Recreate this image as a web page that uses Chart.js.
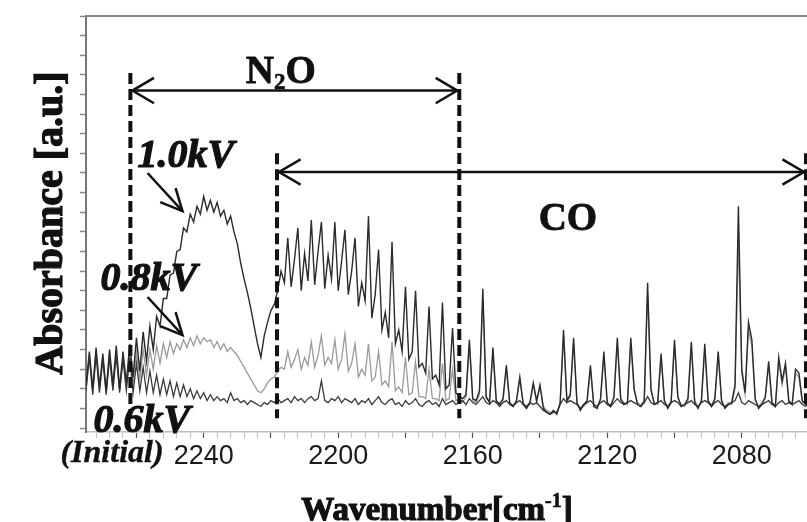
<!DOCTYPE html>
<html lang="en">
  <head>
    <meta charset="UTF-8" />
    <title>N2O / CO absorbance spectra</title>
    <script src="https://cdn.jsdelivr.net/npm/chart.js"></script>
    <style>
      html,
      body {
        margin: 0;
        padding: 0;
        background: #fff;
      }
      canvas {
        display: block;
      }
    </style>
  </head>
  <body>
    <canvas id="spectrumChart" width="807" height="522"></canvas>

    <script>
      // wavenumber grid [cm-1], left to right
      const wavenumbers = [
        2275, 2274, 2273, 2272, 2271, 2270, 2269, 2268, 2267, 2266,
        2265, 2264, 2263, 2262, 2261, 2260, 2259, 2258, 2257, 2256,
        2255, 2254, 2253, 2252, 2251, 2250, 2249, 2248, 2247, 2246,
        2245, 2244, 2243, 2242, 2241, 2240, 2239, 2238, 2237, 2236,
        2235, 2234, 2233, 2232, 2231, 2230, 2229, 2228, 2227, 2226,
        2225, 2224, 2223, 2222, 2221, 2220, 2219, 2218, 2217, 2216,
        2215, 2214, 2213, 2212, 2211, 2210, 2209, 2208, 2207, 2206,
        2205, 2204, 2203, 2202, 2201, 2200, 2199, 2198, 2197, 2196,
        2195, 2194, 2193, 2192, 2191, 2190, 2189, 2188, 2187, 2186,
        2185, 2184, 2183, 2182, 2181, 2180, 2179, 2178, 2177, 2176,
        2175, 2174, 2173, 2172, 2171, 2170, 2169, 2168, 2167, 2166,
        2165, 2164, 2163, 2162, 2161, 2160, 2159, 2158, 2157, 2156,
        2155, 2154, 2153, 2152, 2151, 2150, 2149, 2148, 2147, 2146,
        2145, 2144, 2143, 2142, 2141, 2140, 2139, 2138, 2137, 2136,
        2135, 2134, 2133, 2132, 2131, 2130, 2129, 2128, 2127, 2126,
        2125, 2124, 2123, 2122, 2121, 2120, 2119, 2118, 2117, 2116,
        2115, 2114, 2113, 2112, 2111, 2110, 2109, 2108, 2107, 2106,
        2105, 2104, 2103, 2102, 2101, 2100, 2099, 2098, 2097, 2096,
        2095, 2094, 2093, 2092, 2091, 2090, 2089, 2088, 2087, 2086,
        2085, 2084, 2083, 2082, 2081, 2080, 2079, 2078, 2077, 2076,
        2075, 2074, 2073, 2072, 2071, 2070, 2069, 2068, 2067, 2066,
        2065, 2064, 2063, 2062, 2061, 2060,
      ];

      // absorbance [a.u.], one value per wavenumber above
      const abs10kV = [
        2.2, 3.9, 2.0, 4.1, 2.1, 3.8, 1.9, 4.0, 2.2, 4.2,
        2.0, 3.9, 2.3, 4.3, 2.6, 4.6, 2.9, 4.9, 3.4, 5.2,
        4.0, 5.7, 5.2, 6.6, 6.6, 7.8, 7.9, 9.0, 9.1, 10.2,
        10.0, 10.9, 10.5, 11.3, 10.9, 11.8, 11.1, 11.6, 11.0, 11.5,
        10.8, 11.1, 10.4, 10.8, 10.0, 9.4, 8.4, 7.6, 6.9, 6.1,
        5.2, 4.3, 3.6, 4.7, 5.4, 6.0, 6.3, 7.0, 8.0, 7.4,
        9.7, 7.2, 8.6, 10.2, 7.0, 8.9, 7.5, 10.6, 7.3, 9.0,
        10.5, 7.1, 8.8, 7.6, 10.5, 7.0, 8.5, 10.1, 6.8, 8.0,
        9.7, 6.2, 7.4, 6.5, 10.8, 5.6, 6.8, 9.1, 5.0, 5.9,
        4.6, 9.5, 4.3, 5.0, 3.9, 7.2, 3.5, 3.9, 7.0, 3.1,
        3.3, 2.8, 6.2, 2.5, 2.7, 2.2, 6.4, 2.0, 2.2, 5.1,
        1.8, 1.6, 1.5, 1.7, 4.5, 1.5, 1.4, 1.9, 7.1, 1.6,
        1.3, 4.1, 1.4, 1.2, 1.5, 3.2, 1.3, 1.1, 1.4, 2.6,
        1.2, 1.0, 1.3, 2.3, 1.4, 2.2, 1.0, 0.8, 0.7, 0.9,
        0.7, 1.3, 5.0, 1.4, 1.7, 4.6, 1.3, 0.9, 1.2, 1.4,
        3.2, 1.1, 1.0, 1.5, 3.9, 1.3, 1.1, 1.6, 4.6, 1.5,
        1.2, 1.3, 4.6, 2.0, 1.2, 1.1, 1.4, 7.4, 2.0, 1.2,
        1.3, 3.8, 1.4, 1.0, 1.3, 4.5, 1.6, 1.1, 1.2, 1.5,
        4.4, 1.3, 1.0, 1.4, 4.3, 1.4, 1.1, 1.5, 3.9, 1.4,
        1.0, 1.2, 1.3, 2.2, 11.3, 3.0, 1.8, 5.4, 4.5, 1.5,
        1.0, 1.2, 1.6, 3.4, 1.3, 1.1, 3.6, 2.4, 3.3, 1.4,
        1.2, 3.0, 2.8, 1.4, 1.2, 1.3,
      ];

      const abs08kV = [
        2.0, 3.7, 1.8, 3.9, 1.9, 3.6, 1.8, 3.8, 2.0, 3.9,
        1.9, 3.6, 2.1, 3.9, 2.3, 3.9, 2.5, 4.0, 2.7, 4.0,
        3.0, 4.2, 3.3, 4.3, 3.6, 4.4, 3.8, 4.3, 4.0, 4.5,
        4.1, 4.6, 4.2, 4.7, 4.3, 4.6, 4.4, 4.5, 4.1, 4.4,
        4.0, 4.3, 3.9, 4.1, 3.9, 3.7, 3.4, 3.1, 2.8, 2.5,
        2.2, 1.9, 1.8, 2.0, 2.3, 2.5, 2.6, 2.9, 3.1, 3.0,
        3.9, 3.1, 3.5, 4.0, 3.0, 3.6, 3.2, 4.4, 3.1, 3.7,
        4.7, 3.2, 3.6, 3.3, 4.5, 3.0, 3.5, 4.8, 2.9, 3.3,
        4.3, 2.6, 3.0, 2.7, 4.3, 2.4, 2.6, 3.9, 2.2, 2.4,
        2.1, 4.4, 1.9, 2.1, 1.8, 3.6, 1.7, 1.8, 3.4, 1.6,
        1.6, 1.5, 3.0, 1.5, 1.5, 1.4, 3.3, 1.4, 1.5, 3.0,
        1.4, 1.5, 1.3, 1.6, 4.2, 1.4, 1.3, 1.7, 6.6, 1.5,
        1.4, 3.8, 1.3, 1.3, 1.4, 3.0, 1.2, 1.2, 1.3, 2.5,
        1.3, 1.1, 1.2, 2.2, 1.3, 2.1, 1.1, 0.9, 0.8, 0.8,
        0.8, 1.2, 4.7, 1.3, 1.6, 4.3, 1.2, 1.0, 1.1, 1.3,
        3.0, 1.2, 1.1, 1.4, 3.7, 1.2, 1.2, 1.5, 4.3, 1.4,
        1.3, 1.2, 4.3, 1.9, 1.3, 1.2, 1.3, 6.8, 1.9, 1.3,
        1.2, 3.6, 1.3, 1.1, 1.4, 4.2, 1.5, 1.2, 1.1, 1.4,
        4.1, 1.4, 1.1, 1.3, 4.0, 1.3, 1.2, 1.4, 3.7, 1.3,
        1.1, 1.3, 1.2, 2.0, 9.6, 2.8, 1.7, 5.0, 4.2, 1.4,
        1.1, 1.3, 1.5, 3.2, 1.2, 1.2, 3.4, 2.2, 3.1, 1.3,
        1.3, 2.8, 2.6, 1.3, 1.3, 1.2,
      ];

      const abs06kV = [
        1.9, 3.6, 1.7, 3.7, 1.8, 3.5, 1.7, 3.6, 1.9, 3.7,
        1.8, 3.5, 1.9, 3.6, 1.8, 3.3, 1.9, 3.1, 1.8, 2.9,
        1.8, 2.7, 1.7, 2.5, 1.7, 2.4, 1.6, 2.3, 1.6, 2.2,
        1.6, 2.0, 1.5, 1.9, 1.5, 1.8, 1.4, 1.7, 1.4, 1.6,
        1.4, 1.5, 1.3, 1.8, 1.4, 1.5, 1.3, 1.4, 1.2, 1.4,
        1.3, 1.2, 1.1, 1.3, 1.2, 1.4, 1.3, 1.5, 1.3, 1.4,
        1.5, 1.3, 1.6, 1.4, 1.5, 1.3, 1.5, 1.6, 1.4, 1.5,
        2.4, 1.4, 1.3, 1.5, 1.4, 1.6, 1.3, 1.5, 1.4, 1.3,
        1.5, 1.2, 1.4, 1.3, 1.5, 1.2, 1.4, 1.6, 1.3, 1.2,
        1.4, 1.5, 1.2, 1.3, 1.1, 1.4, 1.2, 1.3, 1.5, 1.2,
        1.1, 1.3, 1.4, 1.2, 1.3, 1.1, 1.5, 1.2, 1.3, 1.4,
        1.2, 1.3, 1.4, 1.2, 1.5, 1.3, 1.2, 1.4, 1.6, 1.3,
        1.2, 1.4, 1.3, 1.1, 1.3, 1.4, 1.2, 1.1, 1.3, 1.4,
        1.2, 1.1, 1.3, 1.2, 1.3, 1.1, 0.9, 0.8, 0.7, 0.8,
        0.8, 1.2, 1.5, 1.3, 1.4, 1.3, 1.2, 1.0, 1.2, 1.3,
        1.4, 1.2, 1.1, 1.3, 1.4, 1.2, 1.1, 1.3, 1.5, 1.3,
        1.2, 1.3, 1.4, 1.3, 1.2, 1.1, 1.3, 1.6, 1.3, 1.2,
        1.3, 1.4, 1.2, 1.1, 1.3, 1.4, 1.3, 1.1, 1.2, 1.3,
        1.4, 1.2, 1.1, 1.3, 1.4, 1.3, 1.1, 1.3, 1.4, 1.2,
        1.1, 1.2, 1.3, 1.4, 1.8, 1.3, 1.2, 1.4, 1.3, 1.2,
        1.1, 1.2, 1.3, 1.4, 1.2, 1.1, 1.3, 1.4, 1.2, 1.3,
        1.2, 1.3, 1.4, 1.2, 1.1, 1.3,
      ];

      const xTickLabels = [2240, 2200, 2160, 2120, 2080];

      // band limits marked on the figure [cm-1]
      const n2oBand = [2261.8, 2164.0];
      const coBand = [2218.2, 2060.9];

      const serif = '"Liberation Serif", "Times New Roman", serif';

      function toPoints(values) {
        return wavenumbers.map((w, i) => ({ x: w, y: values[i] }));
      }

      function line(ctx, x1, y1, x2, y2) {
        ctx.beginPath();
        ctx.moveTo(x1, y1);
        ctx.lineTo(x2, y2);
        ctx.stroke();
      }

      // open "V" arrow head, angle = direction the arrow points
      function head(ctx, x, y, angle, len, spread) {
        ctx.beginPath();
        ctx.moveTo(x - len * Math.cos(angle - spread), y - len * Math.sin(angle - spread));
        ctx.lineTo(x, y);
        ctx.lineTo(x - len * Math.cos(angle + spread), y - len * Math.sin(angle + spread));
        ctx.stroke();
      }

      function heavyText(ctx, text, x, y, font, stroke) {
        ctx.font = font;
        ctx.fillText(text, x, y);
        if (stroke) {
          ctx.lineWidth = stroke;
          ctx.strokeText(text, x, y);
        }
        return ctx.measureText(text).width;
      }

      const overlay = {
        id: "overlay",
        afterDraw(chart) {
          const { ctx, chartArea: area } = chart;
          const px = (w) => chart.scales.x.getPixelForValue(w);
          const py = (v) => chart.scales.y.getPixelForValue(v);

          ctx.save();
          ctx.lineCap = "butt";

          // top frame
          ctx.strokeStyle = "#8c8c8c";
          ctx.lineWidth = 2;
          line(ctx, area.left, area.top, area.right + 2, area.top);

          // dashed band edges
          ctx.strokeStyle = "#111";
          ctx.lineWidth = 4;
          ctx.setLineDash([11, 5]);
          [
            [n2oBand[0], 18.1],
            [n2oBand[1], 18.1],
            [coBand[0], 14.0],
            [coBand[1], 14.0],
          ].forEach(([w, top]) => line(ctx, px(w), py(top), px(w), py(0.5)));
          ctx.setLineDash([]);

          // double arrows
          ctx.lineWidth = 2.5;
          ctx.strokeStyle = "#111";
          [
            [n2oBand, 17.2],
            [coBand, 13.05],
          ].forEach(([band, v]) => {
            const x1 = px(band[0]) + 2;
            const x2 = px(band[1]) - 2;
            const y0 = py(v);
            line(ctx, x1, y0, x2, y0);
            head(ctx, x1, y0, Math.PI, 25, 0.53);
            head(ctx, x2, y0, 0, 25, 0.53);
          });

          // pointer arrows from the voltage labels
          ctx.lineWidth = 2.5;
          [
            [2256.7, 13.0, 2246.3, 11.06],
            [2256.7, 6.68, 2246.3, 4.74],
          ].forEach(([w1, v1, w2, v2]) => {
            const x1 = px(w1), y1 = py(v1), x2 = px(w2), y2 = py(v2);
            line(ctx, x1, y1, x2, y2);
            head(ctx, x2, y2, Math.atan2(y2 - y1, x2 - x1), 24, 0.45);
          });

          // labels
          ctx.fillStyle = "#111";
          ctx.strokeStyle = "#111";
          ctx.textBaseline = "alphabetic";
          ctx.textAlign = "left";

          let x = px(2227.5);
          const yN = py(17.6);
          x += heavyText(ctx, "N", x, yN, `bold 39px ${serif}`, 0.8);
          x += heavyText(ctx, "2", x, yN + 6, `bold 23px ${serif}`, 0.6);
          heavyText(ctx, "O", x, yN, `bold 39px ${serif}`, 0.8);

          heavyText(ctx, "CO", px(2140.4), py(10.1), `bold 39px ${serif}`, 0.8);

          const kvFont = `italic bold 40px ${serif}`;
          heavyText(ctx, "1.0kV", px(2259.7), py(13.3), kvFont, 1.2);
          heavyText(ctx, "0.8kV", px(2270.7), py(7.03), kvFont, 1.2);
          heavyText(ctx, "0.6kV", px(2272.8), py(-0.2), kvFont, 1.2);
          heavyText(ctx, "(Initial)", px(2282.6), py(-1.73), `italic bold 32px ${serif}`, 0.4);

          // axis titles
          const xFont = `bold 33px ${serif}`;
          ctx.font = xFont;
          const main = "Wavenumber[cm";
          ctx.font = `bold 20px ${serif}`;
          const supW = ctx.measureText("-1").width;
          ctx.font = xFont;
          const total = ctx.measureText(main).width + supW + ctx.measureText("]").width;
          let tx = 437 - total / 2;
          const ty = 520;
          tx += heavyText(ctx, main, tx, ty, xFont, 1.2);
          tx += heavyText(ctx, "-1", tx, ty - 13, `bold 20px ${serif}`, 0.6);
          heavyText(ctx, "]", tx, ty, xFont, 1.2);

          ctx.translate(62, 223);
          ctx.rotate(-Math.PI / 2);
          ctx.textAlign = "center";
          heavyText(ctx, "Absorbance [a.u.]", 0, 0, `bold 40px ${serif}`, 1.2);

          ctx.restore();
        },
      };

      new Chart(document.getElementById("spectrumChart"), {
        type: "line",
        data: {
          datasets: [
            {
              label: "1.0kV",
              data: toPoints(abs10kV),
              borderColor: "#2b2b2b",
              borderWidth: 1.4,
            },
            {
              label: "0.6kV (Initial)",
              data: toPoints(abs06kV),
              borderColor: "#3a3a3a",
              borderWidth: 1.3,
            },
            {
              label: "0.8kV",
              data: toPoints(abs08kV),
              borderColor: "#9a9a9a",
              borderWidth: 1.3,
            },
          ],
        },
        options: {
          responsive: false,
          animation: false,
          elements: { point: { radius: 0 }, line: { tension: 0 } },
          layout: { padding: { left: 80, top: 16, right: 0, bottom: 47.6 } },
          plugins: {
            legend: { display: false },
            tooltip: { enabled: false },
          },
          scales: {
            x: {
              type: "linear",
              reverse: true,
              min: 2060.6,
              max: 2275,
              border: { display: true, color: "#bdbdbd", width: 1.5 },
              grid: {
                drawOnChartArea: false,
                tickLength: 6,
                tickWidth: 1.2,
                tickColor: (c) => (c.tick && c.tick.value % 20 === 0 ? "#555" : "#c4c4c4"),
              },
              ticks: {
                stepSize: 4,
                includeBounds: false,
                autoSkip: false,
                maxRotation: 0,
                padding: 2,
                color: "#1a1a1a",
                font: { family: '"Liberation Sans", Arial, sans-serif', size: 27 },
                callback: (value) => (xTickLabels.includes(value) ? String(value) : ""),
              },
            },
            y: {
              min: -0.2,
              max: 21,
              border: { display: true, color: "#777", width: 2 },
              grid: {
                drawOnChartArea: false,
                tickLength: 6,
                tickWidth: 1.5,
                tickColor: "#888",
              },
              ticks: { stepSize: 1, includeBounds: false, display: false },
            },
          },
        },
        plugins: [overlay],
      });
    </script>
  </body>
</html>
